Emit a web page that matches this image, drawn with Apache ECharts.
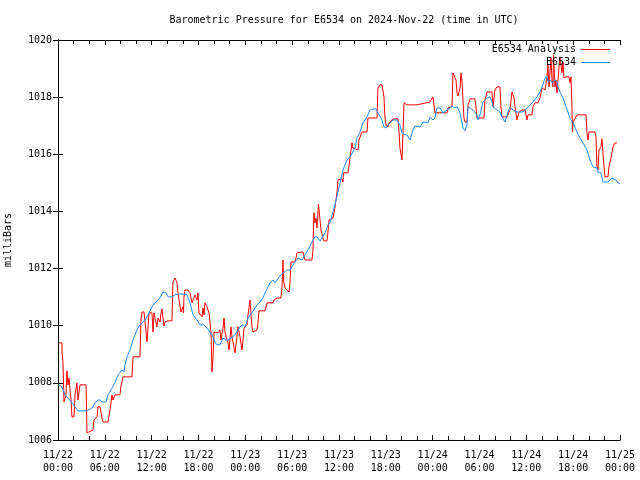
<!DOCTYPE html>
<html>
<head>
<meta charset="utf-8">
<script src="https://cdn.jsdelivr.net/npm/echarts@6/dist/echarts.min.js"></script>
<style>html,body{margin:0;padding:0;background:#fff;}#c{width:640px;height:480px;}</style>
</head>
<body>
<div id="c"></div>
<script>
// Hours since 2024-11-22 00:00 UTC
var xTickDays = ['11/22','11/22','11/22','11/22','11/23','11/23','11/23','11/23','11/24','11/24','11/24','11/24','11/25'];
var xTickTimes = ['00:00','06:00','12:00','18:00','00:00','06:00','12:00','18:00','00:00','06:00','12:00','18:00','00:00'];

var analysisHours = [0.13,0.51,0.52,0.64,0.77,1.02,1.15,1.28,1.41,1.54,1.67,1.79,2.05,2.18,2.43,2.56,2.69,2.82,3.59,3.72,4.48,4.61,5.00,5.12,5.38,5.64,5.76,6.41,6.66,6.92,7.05,7.30,7.94,8.07,8.33,9.48,9.61,10.50,10.63,10.76,11.02,11.15,11.40,11.53,11.66,12.04,12.17,12.30,12.43,12.68,12.81,13.07,13.20,13.32,13.45,13.58,13.71,14.09,14.60,14.73,14.99,15.25,15.37,15.50,15.76,15.89,16.01,16.07,16.14,16.27,16.65,16.91,17.17,17.29,17.55,17.81,17.94,18.06,18.45,18.58,18.70,18.83,19.09,19.22,19.35,19.60,19.73,19.86,19.99,20.50,20.75,20.88,21.01,21.14,21.27,21.39,21.65,21.78,21.91,22.16,22.29,22.42,22.68,22.80,22.93,23.06,23.32,23.57,23.70,23.83,24.21,24.34,24.60,24.73,24.85,24.98,25.49,25.62,25.75,26.52,26.78,27.54,27.67,28.06,28.57,28.70,28.83,28.89,29.08,29.59,29.72,29.85,30.36,30.49,30.62,31.39,31.64,32.54,32.67,32.73,32.80,32.92,33.05,33.18,33.31,33.37,33.57,33.69,33.95,34.08,34.46,34.59,34.72,34.97,35.23,35.36,35.49,35.74,35.87,36.38,36.51,36.57,37.15,37.28,37.41,37.66,37.79,37.92,38.43,38.56,38.94,39.59,39.71,40.87,40.99,41.25,41.51,41.64,41.76,41.89,42.02,42.28,42.41,42.66,42.92,43.56,43.69,43.81,44.07,44.20,44.33,44.58,44.71,45.99,46.12,47.66,47.91,48.04,48.30,49.84,49.96,50.48,50.60,50.73,50.99,51.12,51.24,51.50,51.63,51.76,51.89,52.01,52.14,52.40,52.53,52.78,53.42,53.55,53.68,54.58,54.70,54.96,55.60,55.73,55.98,56.24,56.62,56.75,56.88,57.52,57.65,57.91,58.16,58.29,58.42,58.55,58.80,58.93,59.06,59.44,59.83,60.08,60.21,60.72,60.85,61.11,61.49,61.75,62.01,62.13,62.39,62.65,62.77,62.90,63.16,63.29,63.41,63.48,63.54,63.67,63.80,63.93,64.18,64.31,64.57,64.70,64.82,65.08,65.47,65.59,65.72,65.85,65.91,65.98,66.23,66.49,67.64,67.77,67.90,68.03,68.79,68.92,69.05,69.18,69.31,69.56,69.69,69.82,69.95,70.07,70.46,70.59,70.84,70.97,71.10,71.35,71.61];
var analysisValues = [1009.40,1009.40,1009.08,1008.70,1007.33,1007.58,1008.42,1007.93,1008.17,1007.75,1007.40,1006.81,1006.81,1007.58,1008.00,1007.40,1007.40,1007.93,1007.93,1006.25,1006.35,1006.70,1006.81,1007.16,1007.16,1006.77,1006.63,1006.63,1007.05,1007.58,1007.40,1007.58,1007.58,1007.89,1008.21,1008.21,1008.91,1008.91,1010.20,1010.48,1010.48,1010.13,1009.43,1009.50,1010.45,1010.45,1009.78,1010.45,1010.27,1009.96,1010.27,1010.13,1010.45,1010.59,1010.27,1009.99,1010.13,1010.17,1010.17,1011.53,1011.67,1011.50,1011.15,1010.90,1010.48,1010.45,1010.66,1010.45,1011.01,1011.25,1011.25,1011.15,1010.80,1010.83,1011.08,1010.90,1011.15,1010.45,1010.31,1010.62,1010.38,1010.80,1010.66,1010.55,1010.45,1009.75,1008.38,1008.91,1009.78,1009.75,1009.85,1009.50,1009.57,1009.92,1010.27,1009.78,1009.50,1009.40,1009.15,1009.96,1009.61,1009.43,1009.05,1009.33,1009.61,1009.96,1009.61,1009.15,1009.50,1009.92,1010.03,1010.38,1010.90,1010.38,1009.96,1009.78,1009.85,1010.10,1010.52,1010.52,1010.80,1010.80,1010.90,1010.97,1010.97,1011.36,1012.30,1011.60,1011.32,1011.18,1011.50,1012.23,1012.23,1012.37,1012.55,1012.58,1012.30,1012.30,1012.65,1013.53,1013.95,1013.60,1013.77,1013.42,1013.98,1014.26,1014.26,1013.35,1013.07,1012.97,1012.97,1013.28,1013.70,1013.70,1013.77,1013.95,1014.16,1014.65,1015.10,1015.14,1015.03,1015.35,1015.35,1015.28,1015.87,1016.40,1016.22,1016.15,1016.15,1016.50,1016.78,1016.78,1017.27,1017.27,1018.32,1018.43,1018.43,1018.50,1018.01,1017.27,1017.03,1016.96,1017.10,1017.10,1017.24,1017.24,1016.78,1016.22,1015.80,1016.78,1017.80,1017.83,1017.73,1017.73,1017.80,1017.83,1017.90,1018.01,1017.45,1017.45,1017.62,1017.66,1018.85,1018.85,1018.60,1018.15,1018.04,1018.32,1018.85,1018.53,1017.90,1017.27,1017.13,1017.13,1017.73,1017.94,1017.94,1017.66,1017.27,1017.27,1017.90,1018.18,1018.18,1017.66,1018.25,1018.36,1018.36,1017.66,1017.31,1017.31,1017.27,1017.55,1018.18,1018.18,1017.97,1017.66,1017.20,1017.20,1017.48,1017.55,1017.55,1017.20,1017.38,1017.38,1017.66,1017.80,1017.80,1017.97,1018.32,1018.32,1018.25,1018.71,1019.13,1018.36,1019.37,1018.60,1018.36,1019.48,1019.48,1018.36,1018.60,1018.15,1019.02,1019.41,1018.85,1019.23,1018.67,1018.71,1018.71,1018.50,1018.71,1017.62,1016.78,1017.13,1017.13,1017.38,1017.38,1016.75,1016.50,1016.78,1016.78,1016.61,1015.56,1015.45,1016.15,1016.26,1016.54,1016.54,1015.56,1015.21,1015.21,1015.56,1015.87,1016.05,1016.26,1016.40,1016.40];

var stationHours = [0,0.51,0.90,1.28,1.79,2.18,2.56,3.72,3.97,4.36,4.74,5.12,5.38,5.64,5.89,6.15,6.41,6.92,7.30,7.69,8.20,8.46,8.58,8.84,9.22,9.61,10.12,10.50,11.15,11.53,12.04,12.43,13.07,13.45,13.84,14.09,14.60,14.99,15.37,16.01,16.53,16.91,17.29,17.81,18.19,18.70,18.96,19.47,19.86,20.11,20.37,20.75,21.14,21.52,21.78,22.42,22.93,23.32,23.70,23.96,24.34,24.85,25.49,25.88,26.26,26.52,27.16,27.54,27.80,28.06,28.44,28.83,29.34,29.72,30.11,30.75,31.26,31.64,32.03,32.54,32.92,33.18,33.57,33.82,34.20,34.59,34.85,35.23,35.74,36.13,36.51,37.02,37.41,37.66,38.05,38.30,38.69,39.07,39.59,39.97,40.35,40.74,40.99,41.51,41.76,42.02,42.28,42.66,42.92,43.43,43.81,44.07,44.45,44.71,45.10,45.35,45.48,45.74,45.99,46.38,46.76,47.02,47.40,47.66,48.04,48.30,48.55,48.94,49.32,49.84,50.22,50.48,50.86,51.12,51.50,51.89,52.14,52.40,52.53,52.78,53.17,53.68,53.81,54.06,54.45,54.96,55.34,55.60,55.73,56.24,56.62,56.88,57.27,57.65,57.91,58.16,58.29,58.80,59.57,60.08,60.47,60.85,61.37,61.75,62.13,62.39,62.65,62.77,63.03,63.29,63.67,63.93,64.06,64.31,64.70,65.08,65.34,65.59,65.98,66.49,66.87,67.26,67.77,68.15,68.54,69.05,69.18,69.56,69.82,70.46,70.97,71.10,71.48,71.74,72.00];
var stationValues = [1007.93,1007.86,1007.58,1007.47,1007.30,1007.16,1007.02,1007.02,1006.95,1007.12,1007.30,1007.40,1007.40,1007.33,1007.40,1007.33,1007.58,1007.82,1008.00,1008.28,1008.45,1008.38,1008.63,1008.91,1009.15,1009.50,1009.85,1010.03,1010.20,1010.38,1010.66,1010.80,1010.97,1011.18,1011.15,1011.01,1011.01,1011.08,1011.11,1011.11,1011.08,1010.80,1010.38,1010.20,1010.03,1010.03,1009.96,1009.78,1009.61,1009.43,1009.33,1009.33,1009.57,1009.50,1009.50,1009.61,1009.78,1009.96,1010.03,1009.96,1010.27,1010.45,1010.73,1010.83,1010.97,1011.15,1011.50,1011.60,1011.50,1011.60,1011.74,1011.85,1011.95,1011.95,1012.13,1012.37,1012.30,1012.48,1012.65,1012.93,1013.11,1013.11,1012.97,1012.93,1013.25,1013.53,1013.63,1013.98,1014.51,1015.00,1015.45,1015.80,1015.91,1015.87,1016.22,1016.57,1016.78,1017.10,1017.31,1017.55,1017.59,1017.59,1017.45,1017.20,1016.96,1016.92,1017.03,1017.13,1017.20,1017.20,1017.03,1016.75,1016.68,1016.68,1016.50,1016.43,1016.85,1016.99,1017.03,1016.96,1017.13,1017.13,1017.10,1017.31,1017.20,1017.27,1017.62,1017.62,1017.45,1017.55,1017.62,1017.69,1017.62,1017.66,1017.45,1016.92,1016.82,1017.03,1017.66,1017.73,1017.55,1017.38,1017.20,1017.38,1017.83,1017.97,1018.01,1017.83,1017.66,1017.55,1017.48,1017.31,1017.13,1017.48,1017.66,1017.73,1017.55,1017.48,1017.48,1017.62,1017.73,1017.83,1018.01,1018.18,1018.43,1018.67,1018.71,1018.53,1018.60,1018.50,1018.60,1018.53,1018.36,1018.18,1017.97,1017.66,1017.48,1017.27,1017.10,1016.78,1016.57,1016.40,1016.15,1015.80,1015.56,1015.52,1015.38,1015.35,1015.03,1015.03,1015.17,1015.21,1015.10,1014.99,1014.99];

var yMin = 1006, yMax = 1020, yStep = 2;
var xMin = 0, xMax = 72, xStep = 6;

function pairs(xs, ys) { return xs.map(function (x, i) { return [x, ys[i]]; }); }

var FONT = 'DejaVu Sans Mono';
var chart = echarts.init(document.getElementById('c'), null, { renderer: 'canvas' });
var axisLineStyle = { show: true, lineStyle: { color: '#000', width: 1 } };
chart.setOption({
  animation: false,
  backgroundColor: '#fff',
  title: {
    text: 'Barometric Pressure for E6534 on 2024-Nov-22 (time in UTC)',
    left: 339, top: 10, textAlign: 'center',
    textStyle: { fontFamily: FONT, fontSize: 10, fontWeight: 'normal', color: '#000' }
  },
  legend: {
    orient: 'vertical', right: 25, top: 38, align: 'right', itemGap: 0,
    itemWidth: 29, itemHeight: 1, icon: 'rect',
    textStyle: { fontFamily: FONT, fontSize: 10, color: '#000', lineHeight: 13 },
    data: ['E6534 Analysis', 'E6534']
  },
  grid: { left: 58, right: 20, top: 40, bottom: 40, containLabel: false, outerBoundsMode: 'none' },
  xAxis: [{
    type: 'value', min: xMin, max: xMax, interval: xStep, position: 'bottom',
    axisLine: axisLineStyle,
    axisTick: { show: true, inside: true, length: 5, lineStyle: { color: '#000' } },
    minorTick: { show: true, splitNumber: 3, length: 4, lineStyle: { color: '#000' } },
    splitLine: { show: false },
    axisLabel: {
      fontFamily: FONT, fontSize: 10, color: '#000', margin: 9, lineHeight: 13,
      formatter: function (v) { var i = Math.round(v / xStep); return xTickDays[i] + '\n' + xTickTimes[i]; }
    }
  }, {
    type: 'value', min: xMin, max: xMax, interval: xStep, position: 'top',
    axisLine: axisLineStyle,
    axisTick: { show: true, inside: true, length: 5, lineStyle: { color: '#000' } },
    minorTick: { show: true, splitNumber: 3, length: 4, lineStyle: { color: '#000' } },
    splitLine: { show: false }, axisLabel: { show: false }
  }],
  yAxis: [{
    type: 'value', min: yMin, max: yMax, interval: yStep, position: 'left',
    name: 'milliBars', nameLocation: 'middle', nameGap: 45, nameRotate: 90,
    nameTextStyle: { fontFamily: FONT, fontSize: 10, color: '#000' },
    axisLine: axisLineStyle,
    axisTick: { show: true, inside: true, length: 5, lineStyle: { color: '#000' } },
    splitLine: { show: false },
    axisLabel: { fontFamily: FONT, fontSize: 10, color: '#000', margin: 6,
      formatter: function (v) { return String(v); } }
  }, {
    type: 'value', min: yMin, max: yMax, interval: yStep, position: 'right',
    axisLine: axisLineStyle,
    axisTick: { show: true, inside: true, length: 5, lineStyle: { color: '#000' } },
    splitLine: { show: false }, axisLabel: { show: false }
  }],
  series: [{
    name: 'E6534 Analysis', type: 'line', symbol: 'none', clip: true,
    lineStyle: { color: '#ff0000', width: 1 }, itemStyle: { color: '#ff0000' },
    data: pairs(analysisHours, analysisValues)
  }, {
    name: 'E6534', type: 'line', symbol: 'none', clip: true,
    lineStyle: { color: '#1a8cff', width: 1 }, itemStyle: { color: '#1a8cff' },
    data: pairs(stationHours, stationValues)
  }]
});
</script>
</body>
</html>
